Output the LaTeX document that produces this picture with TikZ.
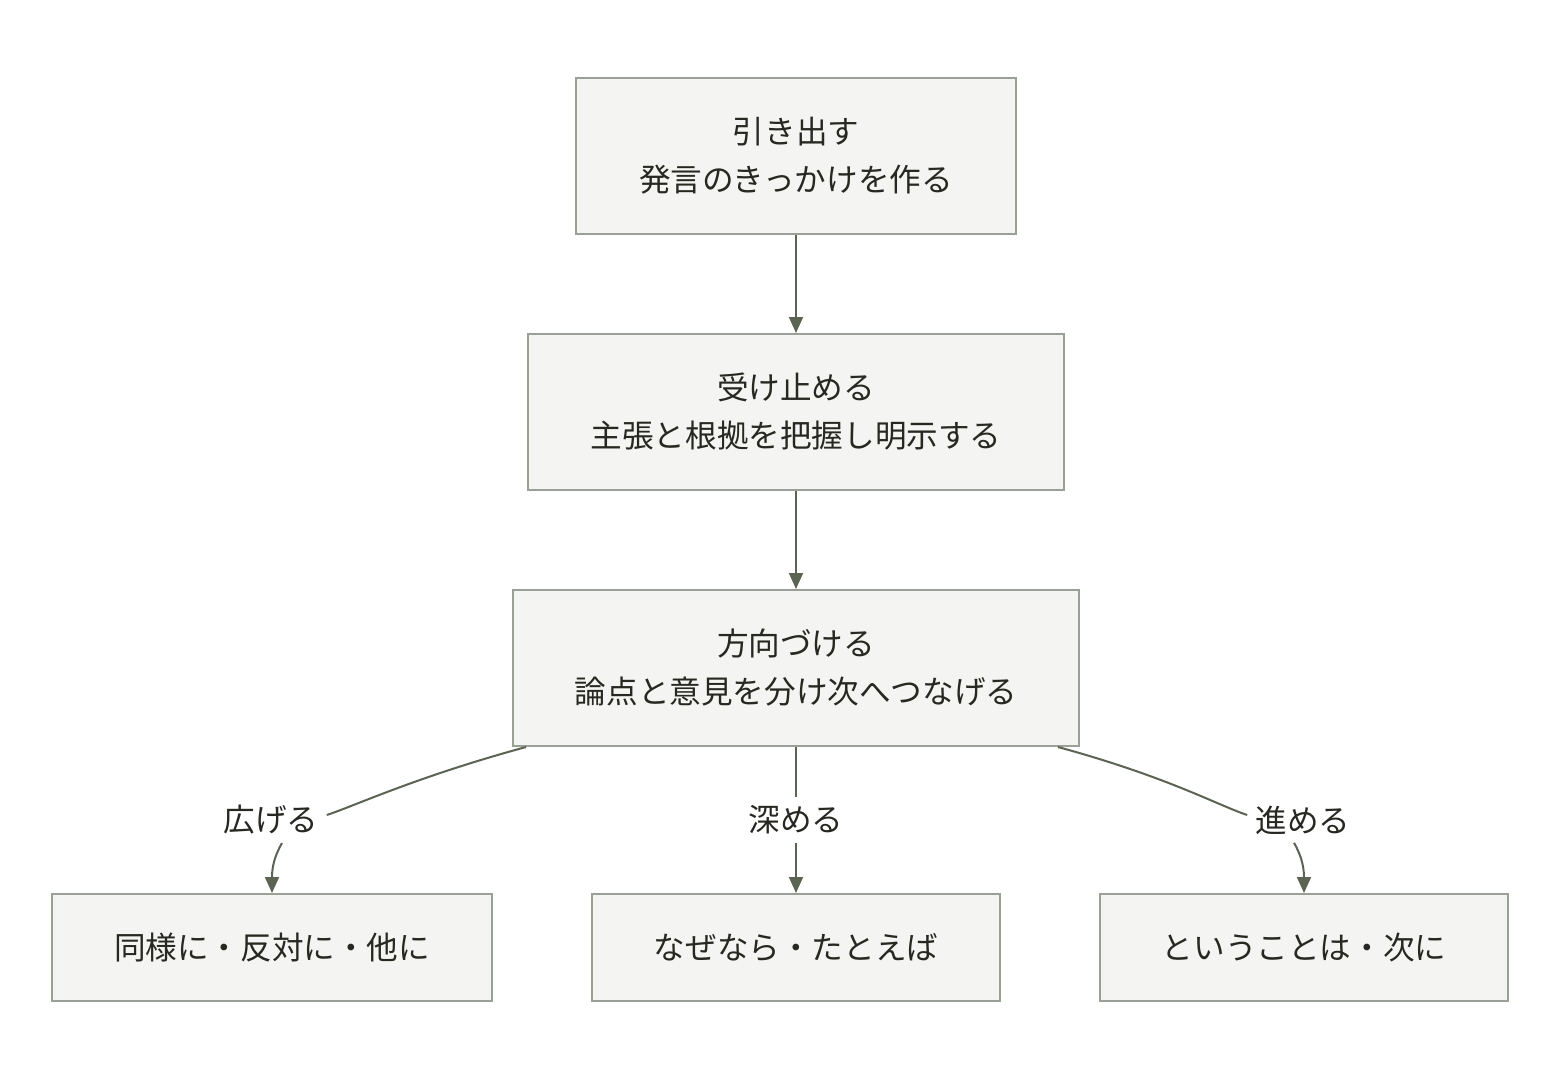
\documentclass[tikz,border=0pt]{standalone}
\usepackage{fontspec}
\setmainfont{Noto Sans CJK JP}
\usetikzlibrary{arrows.meta}
\definecolor{boxfill}{HTML}{F4F4F2}
\definecolor{boxline}{HTML}{9AA096}
\definecolor{edgeline}{HTML}{5B6353}
\definecolor{ink}{HTML}{272822}
\begin{document}
\begin{tikzpicture}[x=0.5pt, y=-0.5pt,
    every node/.style={font=\fontsize{15.8pt}{24pt}\selectfont, text=ink},
    stepbox/.style={draw=boxline, fill=boxfill, line width=1pt, align=center, inner sep=0pt},
    edgelabel/.style={inner sep=4pt},
    link/.style={draw=edgeline, line width=1pt},
    arrow/.style={link, -{Triangle[length=8pt, width=7pt]}}]
    % fix the page size
    \useasboundingbox (0,0) rectangle (1560,1084);

    % main column
    \node[stepbox, minimum width=220pt, minimum height=78pt] (draw) at (796,156) {引き出す\\発言のきっかけを作る};
    \node[stepbox, minimum width=268pt, minimum height=78pt] (receive) at (796,412) {受け止める\\主張と根拠を把握し明示する};
    \node[stepbox, minimum width=283pt, minimum height=78pt] (steer) at (796,668) {方向づける\\論点と意見を分け次へつなげる};

    % bottom row
    \node[stepbox, minimum width=220pt, minimum height=53.5pt] (widen) at (272,947.5) {同様に・反対に・他に};
    \node[stepbox, minimum width=204pt, minimum height=53.5pt] (deepen) at (796,947.5) {なぜなら・たとえば};
    \node[stepbox, minimum width=204pt, minimum height=53.5pt] (advance) at (1304,947.5) {ということは・次に};

    % edge labels
    \node[edgelabel] (lwiden) at (271,820) {広げる};
    \node[edgelabel] (ldeepen) at (796,820) {深める};
    \node[edgelabel] (ladvance) at (1303,820) {進める};

    \draw[arrow] (draw) -- (receive);
    \draw[arrow] (receive) -- (steer);

    \draw[link] ([xshift=7pt]steer.south west) .. controls +(-110,30) and +(30,-10) .. ([yshift=2.5pt]lwiden.east);
    \draw[arrow] ([xshift=5.5pt]lwiden.south) .. controls +(-8,14) and +(0,-25) .. (widen.north);

    \draw[link] (steer.south) -- (ldeepen.north);
    \draw[arrow] (ldeepen.south) -- (deepen.north);

    \draw[link] ([xshift=-11pt]steer.south east) .. controls +(110,30) and +(-30,-10) .. ([yshift=2.5pt]ladvance.west);
    \draw[arrow] ([xshift=-4.5pt]ladvance.south) .. controls +(8,14) and +(0,-25) .. (advance.north);
\end{tikzpicture}
\end{document}
